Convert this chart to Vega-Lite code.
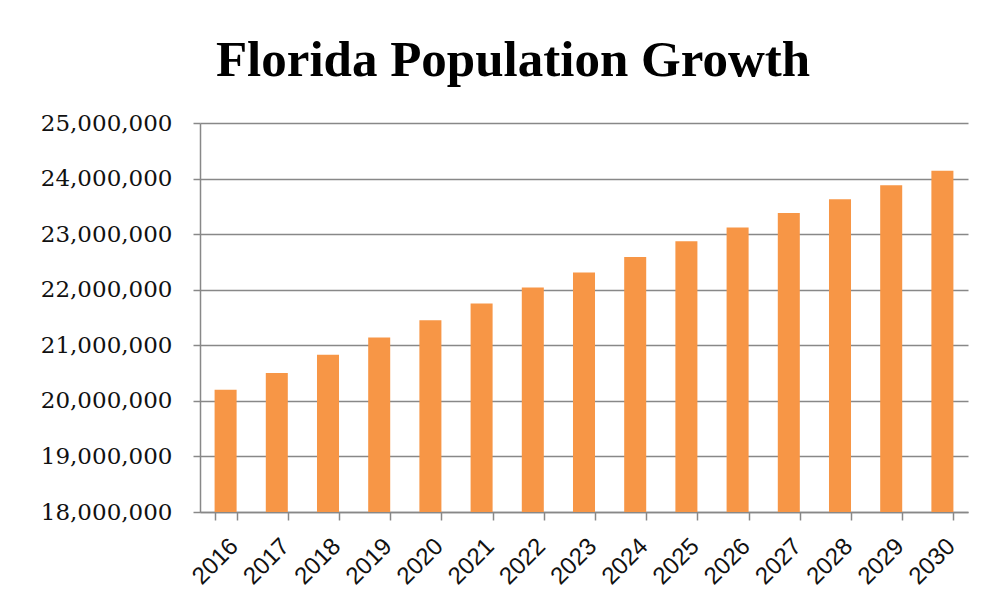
{
  "$schema": "https://vega.github.io/schema/vega-lite/v6.json",
  "autosize": {"type": "none"},
  "width": 768,
  "height": 389,
  "padding": {"left": 200, "top": 123, "right": 35, "bottom": 101},
  "background": "white",
  "title": {
    "text": "Florida Population Growth",
    "font": "Liberation Serif",
    "fontSize": 51,
    "fontWeight": "bold",
    "color": "#000000",
    "anchor": "middle",
    "dx": -71,
    "offset": 25
  },
  "data": {
    "values": [
      {"year": "2016", "population": 20200000},
      {"year": "2017", "population": 20500000},
      {"year": "2018", "population": 20830000},
      {"year": "2019", "population": 21140000},
      {"year": "2020", "population": 21450000},
      {"year": "2021", "population": 21750000},
      {"year": "2022", "population": 22040000},
      {"year": "2023", "population": 22310000},
      {"year": "2024", "population": 22590000},
      {"year": "2025", "population": 22870000},
      {"year": "2026", "population": 23120000},
      {"year": "2027", "population": 23380000},
      {"year": "2028", "population": 23630000},
      {"year": "2029", "population": 23880000},
      {"year": "2030", "population": 24140000}
    ]
  },
  "mark": {"type": "bar", "color": "#F79646", "clip": true},
  "encoding": {
    "x": {
      "field": "year",
      "type": "ordinal",
      "scale": {"paddingInner": 0.57, "paddingOuter": 0.285},
      "axis": {
        "title": null,
        "tickBand": "extent",
        "labelAngle": -45,
        "labelFont": "Liberation Sans",
        "labelFontSize": 24,
        "labelColor": "#111111",
        "domainColor": "#888888",
        "domainWidth": 1.5,
        "tickColor": "#888888",
        "tickWidth": 1.5,
        "tickSize": 8,
        "labelPadding": 14,
        "grid": false
      }
    },
    "y": {
      "field": "population",
      "type": "quantitative",
      "scale": {"domain": [18000000, 25000000], "nice": false, "zero": false},
      "axis": {
        "title": null,
        "values": [18000000, 19000000, 20000000, 21000000, 22000000, 23000000, 24000000, 25000000],
        "format": ",d",
        "labelFont": "DejaVu Serif",
        "labelFontSize": 23,
        "labelColor": "#111111",
        "labelPadding": 21,
        "domainColor": "#888888",
        "domainWidth": 1.5,
        "tickColor": "#888888",
        "tickWidth": 1.5,
        "tickSize": 7,
        "grid": true,
        "gridColor": "#888888",
        "gridWidth": 1.5
      }
    }
  },
  "config": {"view": {"stroke": null}}
}
